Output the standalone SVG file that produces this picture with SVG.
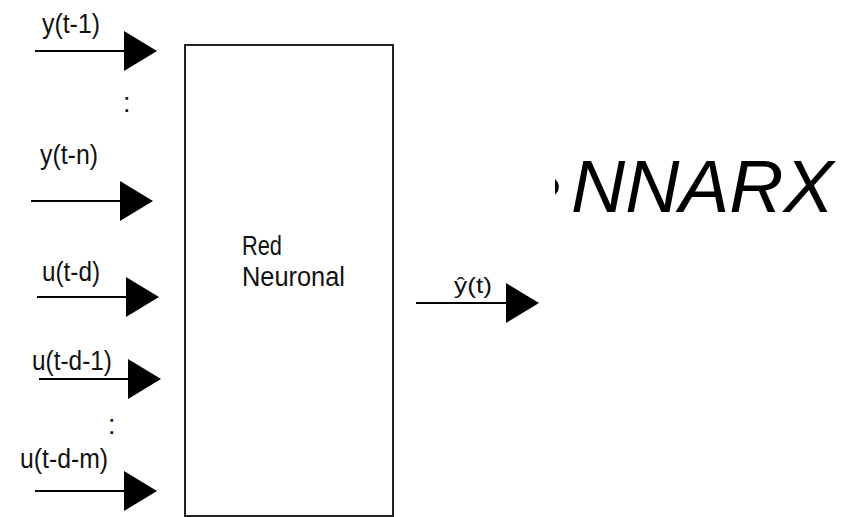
<svg xmlns="http://www.w3.org/2000/svg" width="845" height="517" viewBox="0 0 845 517">
  <style>
    .lbl { font-family: "Liberation Sans", Arial, sans-serif; font-size: 27px; fill: #111; }
    .title { font-family: "Liberation Sans", Arial, sans-serif; font-size: 75px; font-style: italic; fill: #000; }
    .wire { stroke: #000; stroke-width: 2; fill: none; }
    .head { fill: #000; stroke: none; }
    .box { fill: #fff; stroke: #222; stroke-width: 2; }
  </style>
  <defs>
    <clipPath id="bulletClip">
      <rect x="555" y="140" width="20" height="90"/>
    </clipPath>
  </defs>
  <rect width="845" height="517" fill="#fff"/>

  <g id="title">
    <text class="title" x="535" y="212" clip-path="url(#bulletClip)">•</text>
    <text class="title" x="571" y="212">NNARX</text>
  </g>

  <g id="red-neuronal">
    <rect class="box" x="185" y="45" width="208" height="471"/>
    <text class="lbl" x="242" y="255" textLength="40" lengthAdjust="spacingAndGlyphs">Red</text>
    <text class="lbl" x="242" y="286" textLength="103" lengthAdjust="spacingAndGlyphs">Neuronal</text>
  </g>

  <g id="input-labels">
    <text class="lbl" x="42" y="33" textLength="58" lengthAdjust="spacingAndGlyphs">y(t-1)</text>
    <text class="lbl" x="123" y="112">:</text>
    <text class="lbl" x="40" y="164" textLength="58" lengthAdjust="spacingAndGlyphs">y(t-n)</text>
    <text class="lbl" x="42" y="281" textLength="58" lengthAdjust="spacingAndGlyphs">u(t-d)</text>
    <text class="lbl" x="32" y="370" textLength="80" lengthAdjust="spacingAndGlyphs">u(t-d-1)</text>
    <text class="lbl" x="108" y="434">:</text>
    <text class="lbl" x="20" y="468" textLength="88" lengthAdjust="spacingAndGlyphs">u(t-d-m)</text>
  </g>

  <g id="output-label">
    <text class="lbl" x="454" y="293" style="font-size:22px" textLength="38" lengthAdjust="spacingAndGlyphs">ŷ(t)</text>
  </g>

  <g id="connectors">
    <line class="wire" x1="35" y1="51" x2="125" y2="51"/>
    <polygon class="head" points="124,31 124,71 157,51"/>
    <line class="wire" x1="31" y1="201" x2="121" y2="201"/>
    <polygon class="head" points="120,181 120,221 153,201"/>
    <line class="wire" x1="37" y1="297" x2="127" y2="297"/>
    <polygon class="head" points="126,277 126,317 159,297"/>
    <line class="wire" x1="39" y1="379" x2="129" y2="379"/>
    <polygon class="head" points="128,359 128,399 161,379"/>
    <line class="wire" x1="35" y1="491" x2="125" y2="491"/>
    <polygon class="head" points="124,471 124,511 157,491"/>
    <line class="wire" x1="416" y1="303" x2="507" y2="303"/>
    <polygon class="head" points="506,283 506,323 539,303"/>
  </g>
</svg>
